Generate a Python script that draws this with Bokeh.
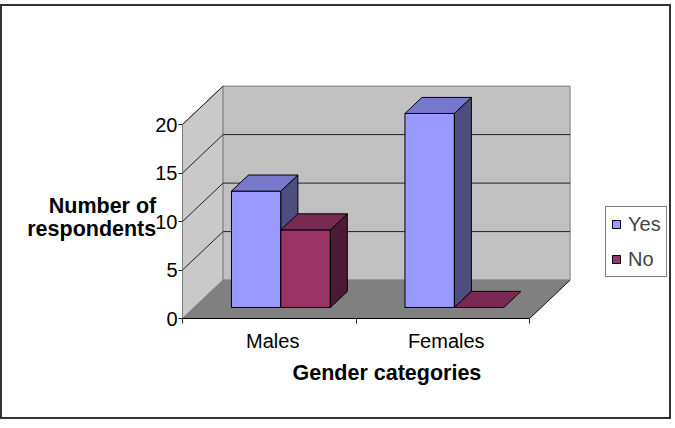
from bokeh.plotting import figure
from bokeh.models import (Range1d, FixedTicker, Legend, LegendItem, Title,
                          InlineStyleSheet)
from bokeh.embed import file_html
from bokeh.resources import INLINE

# ---- data ----
categories = ["Males", "Females"]
series_names = ["Yes", "No"]
yes_values = [12, 20]
no_values = [8, 0]
y_ticks = [0, 5, 10, 15, 20]
y_title = "Number of\nrespondents"
x_title = "Gender categories"

# ---- layout / style ----
W, H = 675, 428
LEFT, RIGHT, TOP, BOTTOM = 182, 3, 0, 110
PX_X = 173.5   # pixels per category unit
PX_Y = 9.7     # pixels per value unit
frame_w = W - LEFT - RIGHT
frame_h = H - TOP - BOTTOM
DX = 40.6 / PX_X   # depth shift (data units) for full depth
DY = 38.4 / PX_Y
BAR_W = 0.285
D0, D1 = 0.287, 0.705
FONT = "Liberation Sans"

front_cols = ["#9999ff", "#993366"]
top_cols = ["#7777cc", "#7a2952"]
side_cols = ["#4d4d80", "#4d1a33"]

n = len(categories)
ymax = max(y_ticks)


def proj(x, y, d):
    return x + d * DX, y + d * DY


def face(pts):
    xs, ys = [], []
    for (x, y, d) in pts:
        px, py = proj(x, y, d)
        xs.append(px)
        ys.append(py)
    return xs, ys


border_css = InlineStyleSheet(css="""
:host::after {
  content: "";
  position: absolute;
  left: 0px; top: 4px;
  width: 671px; height: 415px;
  border: 2px solid #333333;
  box-sizing: border-box;
  pointer-events: none;
}
""")

p = figure(width=W, height=H, x_range=Range1d(0, frame_w / PX_X),
           y_range=Range1d(0, frame_h / PX_Y), output_backend="svg",
           toolbar_location=None, title=None,
           min_border_left=LEFT, min_border_right=RIGHT,
           min_border_top=TOP, min_border_bottom=BOTTOM,
           stylesheets=[border_css])
p.xgrid.visible = False
p.ygrid.visible = False
p.outline_line_color = None
p.background_fill_color = "white"
p.border_fill_color = "white"

# ---- walls ----
wx, wy, wfill, wline = [], [], [], []
for pts, fc, lc in [
    ([(0, 0, 0), (0, 0, 1), (0, ymax, 1), (0, ymax, 0)], "#c9c9c9", "#808080"),
    ([(0, 0, 1), (n, 0, 1), (n, ymax, 1), (0, ymax, 1)], "#c0c0c0", "#808080"),
    ([(0, 0, 0), (n, 0, 0), (n, 0, 1), (0, 0, 1)], "#808080", "#808080"),
]:
    xs, ys = face(pts)
    wx.append(xs); wy.append(ys); wfill.append(fc); wline.append(lc)
p.patches(wx, wy, fill_color=wfill, line_color=wline, line_width=1)

# gridlines
gx, gy = [], []
for t in y_ticks[1:]:
    if t < ymax:
        xs, ys = face([(0, t, 1), (n, t, 1)])
        gx.append(xs); gy.append(ys)
for t in y_ticks[1:]:
    xs, ys = face([(0, t, 0), (0, t, 1)])
    gx.append(xs); gy.append(ys)
xs, ys = face([(n, 0, 0), (n, 0, 1)])
gx.append(xs); gy.append(ys)
p.multi_line(gx, gy, line_color="#202020", line_width=1)

# ---- bars ----
bx, by, bfill = [], [], []
legend_idx = {}
for i, cat in enumerate(categories):
    c = i + 0.5
    for s, vals in enumerate([yes_values, no_values]):
        v = vals[i]
        x0 = c - BAR_W + s * BAR_W
        x1 = x0 + BAR_W
        if v > 0:
            xs, ys = face([(x0, 0, D0), (x1, 0, D0), (x1, v, D0), (x0, v, D0)])
            if s not in legend_idx:
                legend_idx[s] = len(bx)
            bx.append(xs); by.append(ys); bfill.append(front_cols[s])
            xs, ys = face([(x1, 0, D0), (x1, 0, D1), (x1, v, D1), (x1, v, D0)])
            bx.append(xs); by.append(ys); bfill.append(side_cols[s])
        xs, ys = face([(x0, v, D0), (x1, v, D0), (x1, v, D1), (x0, v, D1)])
        bx.append(xs); by.append(ys); bfill.append(top_cols[s])
bars = p.patches(bx, by, fill_color=bfill, line_color="black", line_width=1)

# ---- axes ----
yax = p.yaxis[0]
yax.ticker = FixedTicker(ticks=y_ticks)
yax.bounds = (0, ymax)
yax.axis_line_color = "#808080"
yax.major_tick_out = 4
yax.major_tick_in = 0
yax.minor_tick_line_color = None
yax.major_tick_line_color = "#202020"
yax.major_label_standoff = 1
yax.major_label_text_font = FONT
yax.major_label_text_font_size = "20px"
yax.major_label_text_color = "black"
# leading blank lines push the (frame-centred) title down to the bar area
yax.axis_label = "\n" * 5 + y_title
yax.axis_label_orientation = "horizontal"
yax.axis_label_standoff = -4
yax.axis_label_text_font = FONT
yax.axis_label_text_font_size = "21.5px"
yax.axis_label_text_font_style = "bold"
yax.axis_label_text_color = "black"
yax.axis_label_text_line_height = 0.965

xax = p.xaxis[0]
xt = [i + 0.52 for i in range(n)]
xax.ticker = FixedTicker(ticks=xt, minor_ticks=list(range(n + 1)))
xax.major_label_overrides = {t: c for t, c in zip(xt, categories)}
xax.bounds = (0, n)
xax.axis_line_color = "black"
xax.major_tick_out = 0
xax.major_tick_in = 0
xax.minor_tick_out = 5
xax.minor_tick_in = 0
xax.minor_tick_line_color = "#202020"
xax.major_label_standoff = 6
xax.major_label_text_font = FONT
xax.major_label_text_font_size = "20px"
xax.major_label_text_color = "black"

# ---- x title ----
p.add_layout(Title(text=x_title, align="left", offset=110, standoff=8,
                   text_font=FONT, text_font_size="21.5px",
                   text_font_style="bold", text_color="black"), "below")

# ---- legend ----
items = [LegendItem(label=series_names[s], renderers=[bars], index=legend_idx[s])
         for s in range(len(series_names))]
legend = Legend(items=items, location=(423, 41), padding=5, spacing=11,
                glyph_width=10, glyph_height=10, label_standoff=7, label_height=24,
                label_text_font=FONT, label_text_font_size="20px", margin=0,
                border_line_color="black", border_line_width=1,
                background_fill_color="white", background_fill_alpha=1)
p.add_layout(legend)

open("out.html", "w").write(file_html(p, INLINE))
